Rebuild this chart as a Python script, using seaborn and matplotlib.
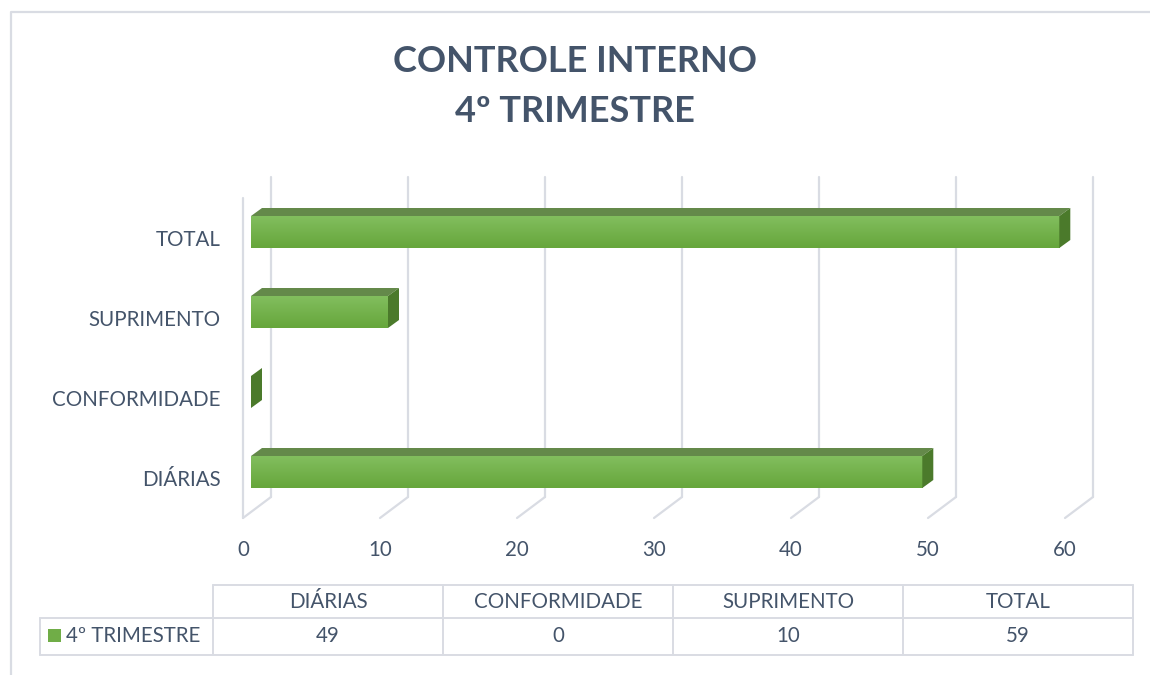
import matplotlib
matplotlib.use("Agg")
import matplotlib.pyplot as plt
import matplotlib.transforms as mtransforms
from matplotlib.patches import Polygon, Rectangle
from matplotlib.lines import Line2D
import numpy as np
import pandas as pd
import seaborn as sns

# data
categories = ["DIÁRIAS", "CONFORMIDADE", "SUPRIMENTO", "TOTAL"]
values = [49, 0, 10, 59]
series_name = "4º TRIMESTRE"
x_ticks = [0, 10, 20, 30, 40, 50, 60]
title_lines = ["CONTROLE INTERNO", "4º TRIMESTRE"]

DPI = 100
TEXT = "#44546A"
TITLE = "#44546A"
GRID = "#d9dce3"
GREEN_LIGHT = "#82be5e"
GREEN_DARK = "#66a63b"
GREEN_TOP = "#64894a"
GREEN_SIDE = "#4b7a2b"
FONT = ["Lato", "DejaVu Sans"]
FS = 14.8

sns.set_style("white")
plt.rcParams["font.family"] = FONT

fig = plt.figure(figsize=(11.5, 6.75), dpi=DPI)
W, H = 1150, 675

# front plane of the 3D plot area (pixels): x 243..1065, y 198..518
ax = fig.add_axes([243 / W, 1 - 518 / H, 822 / W, 320 / H])

df = pd.DataFrame({"categoria": categories, "valor": values})
sns.barplot(data=df, x="valor", y="categoria", order=categories[::-1], orient="h",
            color=GREEN_DARK, saturation=1, width=0.4, ax=ax, zorder=3)

ax.set_xlim(0, 60)
ax.set_ylim(3.5, -0.5)
ax.set_xticks(x_ticks)
ax.set_xlabel("")
ax.set_ylabel("")
for s in ax.spines.values():
    s.set_visible(False)
ax.tick_params(axis="x", length=0, pad=16, labelsize=FS, labelcolor=TEXT)
ax.tick_params(axis="y", length=0, pad=16, labelsize=FS, labelcolor=TEXT)
ax.grid(False)


def shift(dx, dy):
    return ax.transData + mtransforms.ScaledTranslation(dx / DPI, dy / DPI, fig.dpi_scale_trans)


ident = mtransforms.IdentityTransform()
WALL = (28, 21)     # back wall offset in px
FRONT = (8, 6)      # bar front face offset
DEPTH = (11, 8)     # bar depth

# back wall gridlines and floor diagonals
for t in x_ticks:
    ax.plot([t, t], [3.5, -0.5], color=GRID, lw=1.6, transform=shift(*WALL),
            clip_on=False, zorder=1)
    p0 = ax.transData.transform((t, 3.5))
    ax.add_line(Line2D([p0[0], p0[0] + WALL[0]], [p0[1], p0[1] + WALL[1]],
                       color=GRID, lw=1.6, transform=ident, clip_on=False, zorder=1))
ax.plot([0, 0], [3.5, -0.5], color=GRID, lw=1.6, clip_on=False, zorder=1)

# 3D bars
grad = np.linspace(0, 1, 64).reshape(-1, 1)
cmap = matplotlib.colors.LinearSegmentedColormap.from_list("g", [GREEN_LIGHT, GREEN_DARK])
front_tr = shift(*FRONT)
for patch in list(ax.patches):
    patch.set_transform(front_tr)
    patch.set_clip_on(False)
    patch.set_edgecolor("none")
    x0, y0 = patch.get_x(), patch.get_y()
    w, h = patch.get_width(), patch.get_height()
    corners = front_tr.transform([(x0, y0), (x0 + w, y0 + h)])
    L, R = corners[:, 0].min(), corners[:, 0].max()
    B, T = corners[:, 1].min(), corners[:, 1].max()
    if w > 0:
        im = ax.imshow(grad, extent=(x0, x0 + w, y0 + h, y0), cmap=cmap, aspect="auto",
                       transform=front_tr, zorder=4, interpolation="bilinear")
        im.set_clip_path(patch)
    top = Polygon([(L, T), (R, T), (R + DEPTH[0], T + DEPTH[1]), (L + DEPTH[0], T + DEPTH[1])],
                  closed=True, facecolor=GREEN_TOP, edgecolor="none", transform=ident,
                  clip_on=False, zorder=4)
    side = Polygon([(R, B), (R, T), (R + DEPTH[0], T + DEPTH[1]), (R + DEPTH[0], B + DEPTH[1])],
                   closed=True, facecolor=GREEN_SIDE, edgecolor="none", transform=ident,
                   clip_on=False, zorder=4)
    ax.add_patch(top)
    ax.add_patch(side)

ax.set_xlim(0, 60)
ax.set_ylim(3.5, -0.5)

# title
fig.text(0.5, 1 - 61 / H, title_lines[0], ha="center", va="center", fontsize=26,
         fontweight="bold", color=TITLE)
fig.text(0.5, 1 - 111 / H, title_lines[1], ha="center", va="center", fontsize=26,
         fontweight="bold", color=TITLE)

# data table + outer border, drawn in pixel space
tab = fig.add_axes([0, 0, 1, 1], zorder=-1)
tab.set_xlim(0, W)
tab.set_ylim(H, 0)
tab.axis("off")
tab.plot([11, 11, W], [H, 12, 12], color=GRID, lw=1.6)

col_edges = [213, 443, 673, 903, 1133]
y_top, y_mid, y_bot = 585, 618, 655
tab.plot([col_edges[0], col_edges[-1]], [y_top, y_top], color=GRID, lw=1.4)
tab.plot([40, col_edges[-1]], [y_mid, y_mid], color=GRID, lw=1.4)
tab.plot([40, col_edges[-1]], [y_bot, y_bot], color=GRID, lw=1.4)
tab.plot([40, 40], [y_mid, y_bot], color=GRID, lw=1.4)
for xe in col_edges:
    tab.plot([xe, xe], [y_top, y_bot], color=GRID, lw=1.4)
for i, (cat, val) in enumerate(zip(categories, values)):
    cx = (col_edges[i] + col_edges[i + 1]) / 2
    tab.text(cx, (y_top + y_mid) / 2, cat, ha="center", va="center", fontsize=FS, color=TEXT)
    tab.text(cx, (y_mid + y_bot) / 2, str(val), ha="center", va="center", fontsize=FS, color=TEXT)
tab.add_patch(Rectangle((48, 629), 13, 13, facecolor="#70ad47", edgecolor="none"))
tab.text(66, (y_mid + y_bot) / 2, series_name, ha="left", va="center", fontsize=FS, color=TEXT)

fig.savefig("out.png", dpi=DPI, facecolor="white")
